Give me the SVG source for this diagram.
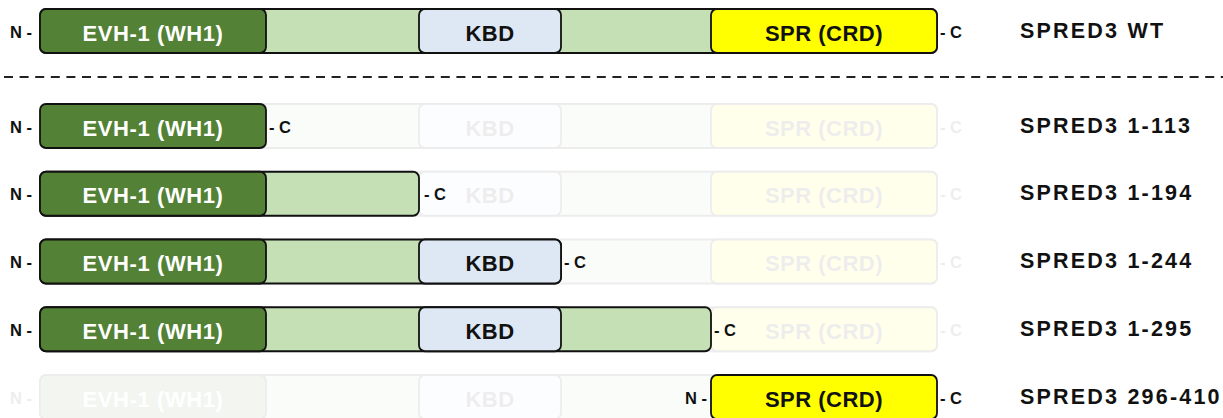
<svg xmlns="http://www.w3.org/2000/svg" xmlns:xlink="http://www.w3.org/1999/xlink" width="1223" height="418" viewBox="0 0 1223 418">
  <style>
    text { font-family: "Liberation Sans", Arial, sans-serif; font-weight: bold; }
    .bb { fill: #c5e0b4; stroke: #111; stroke-width: 1.8; }
    .evh { fill: #538135; stroke: #111; stroke-width: 1.8; }
    .kbd { fill: #dee8f4; stroke: #111; stroke-width: 1.8; }
    .spr { fill: #ffff00; stroke: #111; stroke-width: 1.8; }
    .dom { font-size: 22px; text-anchor: middle; fill: #111; letter-spacing: 0.5px; }
    .dom-w { font-size: 22px; text-anchor: middle; fill: #fff; letter-spacing: 0.6px; }
    .term { font-size: 16.5px; fill: #111; }
    .name { font-size: 21.5px; fill: #111; letter-spacing: 2.2px; }
    .ghost { opacity: 0.07; }
  </style>
  <defs>
    <!-- full-length SPRED3 construct, top edge at y=0 -->
    <g id="full">
      <rect class="bb" x="40" y="0" width="897" height="44" rx="6"/>
      <rect class="evh" x="40" y="0" width="226" height="44" rx="6"/>
      <rect class="kbd" x="419" y="0" width="142" height="44" rx="6"/>
      <rect class="spr" x="711" y="0" width="226" height="44" rx="6"/>
      <text class="dom-w" x="153" y="31.5">EVH-1 (WH1)</text>
      <text class="dom" x="490" y="31.5">KBD</text>
      <text class="dom" x="824" y="31.5">SPR (CRD)</text>
      <text class="term" x="10" y="28.5">N -</text>
      <text class="term" x="940" y="28.5">- C</text>
    </g>
  </defs>

  <!-- wild type -->
  <g id="row-wt" transform="translate(0,9)">
    <use xlink:href="#full"/>
    <text class="name" x="1020" y="28.5">SPRED3 WT</text>
  </g>

  <!-- separator -->
  <g id="connectors">
    <line x1="4" y1="77" x2="1223" y2="77" stroke="#222" stroke-width="2.2" stroke-dasharray="9 6.6"/>
  </g>

  <!-- 1-113 -->
  <g id="row-1-113" transform="translate(0,104)">
    <use xlink:href="#full" class="ghost"/>
    <rect class="evh" x="40" y="0" width="226" height="44" rx="6"/>
    <text class="dom-w" x="153" y="31.5">EVH-1 (WH1)</text>
    <text class="term" x="10" y="28.5">N -</text>
    <text class="term" x="269" y="28.5">- C</text>
    <text class="name" x="1020" y="28.5">SPRED3 1-113</text>
  </g>

  <!-- 1-194 -->
  <g id="row-1-194" transform="translate(0,171.75)">
    <use xlink:href="#full" class="ghost"/>
    <rect class="bb" x="40" y="0" width="379" height="44" rx="6"/>
    <rect class="evh" x="40" y="0" width="226" height="44" rx="6"/>
    <text class="dom-w" x="153" y="31.5">EVH-1 (WH1)</text>
    <text class="term" x="10" y="28.5">N -</text>
    <text class="term" x="424" y="28.5">- C</text>
    <text class="name" x="1020" y="28.5">SPRED3 1-194</text>
  </g>

  <!-- 1-244 -->
  <g id="row-1-244" transform="translate(0,239.5)">
    <use xlink:href="#full" class="ghost"/>
    <rect class="bb" x="40" y="0" width="521" height="44" rx="6"/>
    <rect class="evh" x="40" y="0" width="226" height="44" rx="6"/>
    <rect class="kbd" x="419" y="0" width="142" height="44" rx="6"/>
    <text class="dom-w" x="153" y="31.5">EVH-1 (WH1)</text>
    <text class="dom" x="490" y="31.5">KBD</text>
    <text class="term" x="10" y="28.5">N -</text>
    <text class="term" x="564" y="28.5">- C</text>
    <text class="name" x="1020" y="28.5">SPRED3 1-244</text>
  </g>

  <!-- 1-295 -->
  <g id="row-1-295" transform="translate(0,307.25)">
    <use xlink:href="#full" class="ghost"/>
    <rect class="bb" x="40" y="0" width="671" height="44" rx="6"/>
    <rect class="evh" x="40" y="0" width="226" height="44" rx="6"/>
    <rect class="kbd" x="419" y="0" width="142" height="44" rx="6"/>
    <text class="dom-w" x="153" y="31.5">EVH-1 (WH1)</text>
    <text class="dom" x="490" y="31.5">KBD</text>
    <text class="term" x="10" y="28.5">N -</text>
    <text class="term" x="714" y="28.5">- C</text>
    <text class="name" x="1020" y="28.5">SPRED3 1-295</text>
  </g>

  <!-- 296-410 -->
  <g id="row-296-410" transform="translate(0,375)">
    <use xlink:href="#full" class="ghost"/>
    <rect class="spr" x="711" y="0" width="226" height="44" rx="6"/>
    <text class="dom" x="824" y="31.5">SPR (CRD)</text>
    <text class="term" x="685" y="28.5">N -</text>
    <text class="term" x="940" y="28.5">- C</text>
    <text class="name" x="1020" y="28.5">SPRED3 296-410</text>
  </g>
</svg>
